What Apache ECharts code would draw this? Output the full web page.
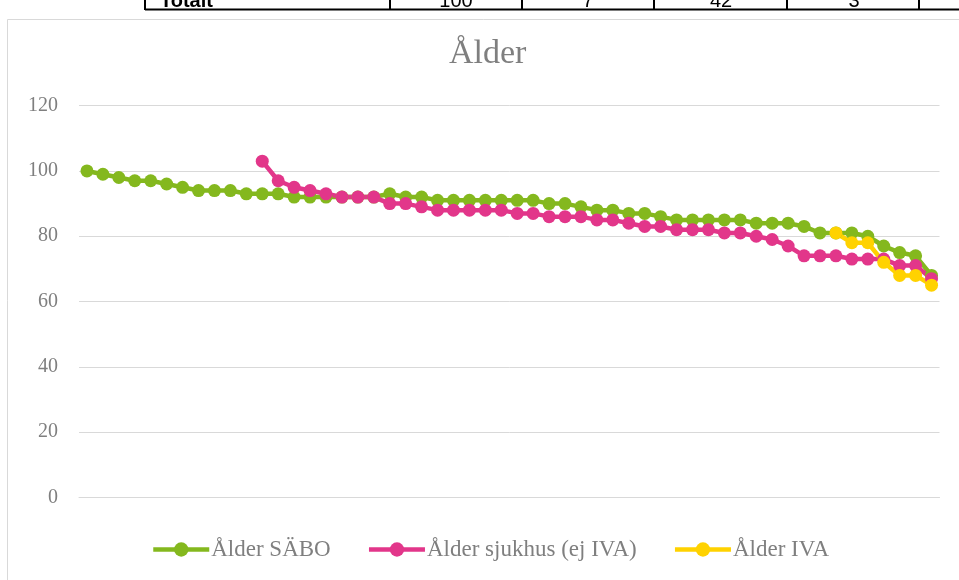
<!DOCTYPE html>
<html>
<head>
<meta charset="utf-8">
<script src="https://cdn.jsdelivr.net/npm/echarts@6/dist/echarts.min.js"></script>
<style>
html,body{margin:0;padding:0;background:#fff;}
#c{width:959px;height:580px;}
</style>
</head>
<body>
<div id="c"></div>
<script>
// ---- data ----
const categories = Array.from({length: 54}, (_, i) => String(i + 1));
const seriesNames = ['Ålder SÄBO', 'Ålder sjukhus (ej IVA)', 'Ålder IVA'];
const saboValues = [100,99,98,97,97,96,95,94,94,94,93,93,93,92,92,92,92,92,92,93,92,92,91,91,91,91,91,91,91,90,90,89,88,88,87,87,86,85,85,85,85,85,84,84,84,83,81,81,81,80,77,75,74,68];
const sjukhusValues = [null,null,null,null,null,null,null,null,null,null,null,103,97,95,94,93,92,92,92,90,90,89,88,88,88,88,88,87,87,86,86,86,85,85,84,83,83,82,82,82,81,81,80,79,77,74,74,74,73,73,73,71,71,67];
const ivaValues = [null,null,null,null,null,null,null,null,null,null,null,null,null,null,null,null,null,null,null,null,null,null,null,null,null,null,null,null,null,null,null,null,null,null,null,null,null,null,null,null,null,null,null,null,null,null,null,81,78,78,72,68,68,65];
const yTicks = {min: 0, max: 120, interval: 20};
const tableTexts = ['Totalt', '100', '7', '42', '3'];

const colors = ['#84B81E', '#E2368A', '#FFD200'];
const serif = '"Liberation Serif", "DejaVu Serif", serif';

const chart = echarts.init(document.getElementById('c'), null, {renderer: 'canvas'});

const mkSeries = (name, data, color) => ({
  name, type: 'line', data,
  symbol: 'circle', symbolSize: 13,
  showSymbol: true, showAllSymbol: true,
  connectNulls: false,
  lineStyle: {color, width: 4.5},
  itemStyle: {color},
  emphasis: {disabled: true},
  animation: false
});

// table fragment at top (cut-off)
const tableCols = [145, 390, 522, 654, 787, 919];
const graphics = [];
graphics.push({type: 'line', shape: {x1: 145, y1: 9.5, x2: 959, y2: 9.5}, style: {stroke: '#000', lineWidth: 2}});
tableCols.forEach(x => graphics.push({type: 'line', shape: {x1: x, y1: 0, x2: x, y2: 10}, style: {stroke: '#000', lineWidth: 2}}));
const textX = [160, 456, 588, 721, 854];
tableTexts.forEach((t, i) => graphics.push({
  type: 'text', x: textX[i], y: 11,
  style: {text: t, font: (i === 0 ? 'bold ' : '') + '20px "Liberation Sans", Arial, sans-serif', fill: '#000',
          align: i === 0 ? 'left' : 'center', verticalAlign: 'bottom'}
}));
// chart frame
graphics.push({type: 'rect', shape: {x: 7.5, y: 19.5, width: 1000, height: 600}, style: {fill: null, stroke: '#d9d9d9', lineWidth: 1}});

chart.setOption({
  backgroundColor: '#fff',
  animation: false,
  title: {
    text: 'Ålder', left: 444, top: 32,
    textStyle: {fontFamily: serif, fontSize: 34, fontWeight: 'normal', color: '#7f7f7f'}
  },
  legend: {
    bottom: 14, left: 146,
    itemWidth: 56, itemHeight: 18, itemGap: 36,
    itemStyle: {borderWidth: 0},
    lineStyle: {width: 4.5},
    textStyle: {fontFamily: serif, fontSize: 23, color: '#7f7f7f', padding: [0, 0, 0, -3]},
    data: seriesNames
  },
  grid: {left: 79, right: 19.5, top: 105.7, bottom: 82.7, containLabel: false},
  xAxis: {
    type: 'category', data: categories, boundaryGap: true,
    axisLine: {show: true, lineStyle: {color: '#d9d9d9', width: 1}},
    axisTick: {show: false}, axisLabel: {show: false}, splitLine: {show: false}
  },
  yAxis: {
    type: 'value', min: yTicks.min, max: yTicks.max, interval: yTicks.interval,
    axisLine: {show: false}, axisTick: {show: false},
    axisLabel: {fontFamily: serif, fontSize: 20, color: '#7f7f7f', margin: 21},
    splitLine: {lineStyle: {color: '#d9d9d9', width: 1}}
  },
  series: [
    mkSeries(seriesNames[0], saboValues, colors[0]),
    mkSeries(seriesNames[1], sjukhusValues, colors[1]),
    mkSeries(seriesNames[2], ivaValues, colors[2])
  ],
  graphic: graphics
});
</script>
</body>
</html>
